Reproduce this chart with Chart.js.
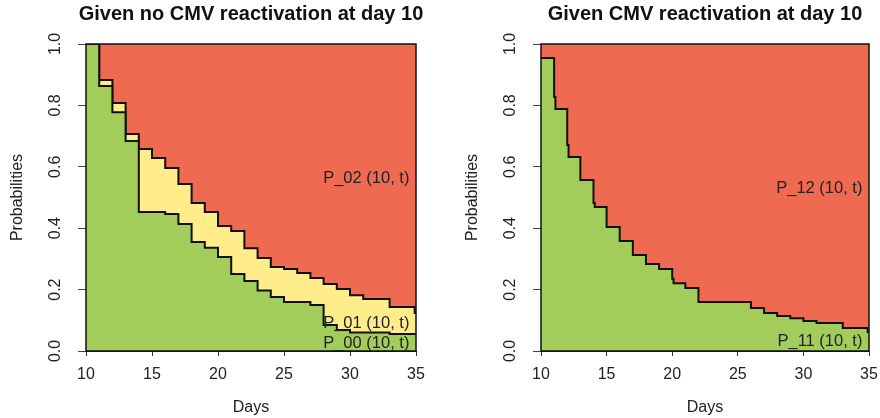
<!DOCTYPE html>
<html><head><meta charset="utf-8">
<script src="https://cdn.jsdelivr.net/npm/chart.js@4.4.1/dist/chart.umd.min.js"></script>
<style>
html,body{margin:0;padding:0;background:#fff;}
#wrap{position:relative;width:880px;height:418px;overflow:hidden;}
.panel{position:absolute;top:0;width:440px;height:418px;}
</style></head><body>
<div id="wrap">
<div class="panel" style="left:0"><canvas id="c1" width="440" height="418"></canvas></div>
<div class="panel" style="left:440px"><canvas id="c2" width="440" height="418"></canvas></div>
</div>
<script>
// ---- Data ----
const titleLeft = 'Given no CMV reactivation at day 10';
const titleRight = 'Given CMV reactivation at day 10';
const xTitle = 'Days';
const yTitle = 'Probabilities';

// Left panel: P_00(10,t) and P_00 + P_01 (stepped, value after each event day)
const p00Days = [10, 11, 12, 13, 14, 16, 17, 18, 19, 20, 21, 22, 23, 24, 25, 27, 28, 29, 30, 33, 35];
const p00Vals = [1.0, 0.863, 0.778, 0.684, 0.453, 0.446, 0.414, 0.355, 0.336, 0.306, 0.251, 0.228, 0.197, 0.176, 0.160, 0.150, 0.085, 0.068, 0.060, 0.055, 0.055];
const cum01Days = [10, 11, 12, 13, 14, 15, 16, 17, 18, 19, 20, 21, 22, 23, 24, 25, 26, 27, 28, 29, 30, 31, 33, 34.9, 35];
const cum01Vals = [1.0, 0.883, 0.808, 0.707, 0.658, 0.629, 0.596, 0.544, 0.482, 0.453, 0.407, 0.391, 0.335, 0.303, 0.274, 0.267, 0.254, 0.238, 0.218, 0.202, 0.182, 0.169, 0.143, 0.124, 0.124];

// Right panel: P_11(10,t)
const p11Days = [10, 11, 11.1, 12, 12.1, 13, 14, 14.1, 15, 16, 17, 18, 19, 20, 20.1, 21, 22, 26, 27, 28, 29, 30, 31, 33, 34.9, 35];
const p11Vals = [0.954, 0.827, 0.788, 0.671, 0.632, 0.557, 0.482, 0.469, 0.404, 0.358, 0.313, 0.283, 0.267, 0.235, 0.221, 0.205, 0.160, 0.140, 0.124, 0.114, 0.107, 0.098, 0.091, 0.075, 0.062, 0.062];

const stateNamesLeft = ['P_02 (10, t)', 'P_01 (10, t)', 'P_00 (10, t)'];
const stateNamesRight = ['P_12 (10, t)', 'P_11 (10, t)'];

// ---- Styles / placement ----
const GREEN = '#A2CD5A', YELLOW = '#FFEC8B', RED = '#EE6A50';
const FONT = '"Liberation Sans", Arial, Helvetica, sans-serif';
Chart.defaults.font.family = FONT;
Chart.defaults.color = '#222';

const toXY = (xs, ys) => xs.map((x, i) => ({x: x, y: ys[i]}));

const framePlugin = {
  id: 'frame',
  afterDatasetsDraw(chart) {
    const {ctx, chartArea: a} = chart;
    ctx.save();
    ctx.strokeStyle = '#111';
    ctx.lineWidth = 1.5;
    ctx.strokeRect(a.left, a.top, a.right - a.left, a.bottom - a.top);
    ctx.restore();
  }
};
// Main title centred over the plot region (R style), not squeezed to its width
const mainTitlePlugin = {
  id: 'mainTitle',
  afterDraw(chart, args, opts) {
    const {ctx, chartArea: a} = chart;
    ctx.save();
    ctx.font = 'bold 20px ' + FONT;
    ctx.fillStyle = '#111';
    ctx.textAlign = 'center';
    ctx.textBaseline = 'middle';
    ctx.fillText(opts.text || '', (a.left + a.right) / 2, 14);
    ctx.restore();
  }
};
const labelPlugin = {
  id: 'stateLabels',
  afterDraw(chart, args, opts) {
    const {ctx, scales: {x, y}} = chart;
    ctx.save();
    ctx.font = '16.5px ' + FONT;
    ctx.fillStyle = '#222';
    ctx.textAlign = 'right';
    ctx.textBaseline = 'middle';
    (opts.items || []).forEach(it => {
      ctx.fillText(it.text, x.getPixelForValue(it.x), y.getPixelForValue(it.y));
    });
    ctx.restore();
  }
};

function lineDs(data, fill, bg, bw) {
  return {
    data: data, stepped: true, fill: fill, backgroundColor: bg,
    borderColor: '#111', borderWidth: bw, pointRadius: 0, tension: 0
  };
}

function makeChart(id, title, datasets, items, padLeft, padRight) {
  return new Chart(document.getElementById(id), {
    type: 'line',
    data: {datasets: datasets},
    plugins: [framePlugin, labelPlugin, mainTitlePlugin],
    options: {
      responsive: false, animation: false,
      layout: {padding: {left: padLeft, right: padRight, top: 44, bottom: 0}},
      plugins: {
        legend: {display: false}, tooltip: {enabled: false},
        title: {display: false},
        mainTitle: {text: title},
        stateLabels: {items: items}
      },
      scales: {
        x: {
          type: 'linear', min: 10, max: 35,
          afterFit: s => { s.height = 67; s.paddingLeft = 0; s.paddingRight = 0; },
          ticks: {stepSize: 5, font: {size: 16}, padding: 9, color: '#222', maxRotation: 0},
          grid: {drawOnChartArea: false, drawTicks: true, tickLength: 5, color: '#333'},
          border: {display: true, color: '#111', width: 1},
          title: {display: true, text: xTitle, font: {size: 16}, color: '#222', padding: {top: 0, bottom: 1}}
        },
        y: {
          min: 0, max: 1,
          afterFit: s => { s.width = 86; s.paddingTop = 0; s.paddingBottom = 0; },
          ticks: {stepSize: 0.2, font: {size: 16}, padding: 11, color: '#222',
            minRotation: 90, maxRotation: 90, crossAlign: 'center',
            callback: v => Number(v).toFixed(1)},
          grid: {drawOnChartArea: false, drawTicks: true, tickLength: 8, color: '#444'},
          border: {display: true, color: '#111', width: 1},
          title: {display: true, text: yTitle, font: {size: 16}, color: '#222', padding: {top: 8, bottom: 0}}
        }
      }
    }
  });
}

makeChart('c1', titleLeft, [
  lineDs(toXY(p00Days, p00Vals), 'origin', GREEN, 2),
  lineDs(toXY(cum01Days, cum01Vals), '-1', YELLOW, 2),
  lineDs(toXY(cum01Days, cum01Vals), 'end', RED, 0)
], [
  {text: stateNamesLeft[0], x: 34.5, y: 0.563},
  {text: stateNamesLeft[1], x: 34.5, y: 0.089},
  {text: stateNamesLeft[2], x: 34.5, y: 0.025}
], 0, 24);

makeChart('c2', titleRight, [
  lineDs(toXY(p11Days, p11Vals), 'origin', GREEN, 2),
  lineDs(toXY(p11Days, p11Vals), 'end', RED, 0)
], [
  {text: stateNamesRight[0], x: 34.5, y: 0.530},
  {text: stateNamesRight[1], x: 34.5, y: 0.030}
], 15, 11);
</script>
</body></html>
